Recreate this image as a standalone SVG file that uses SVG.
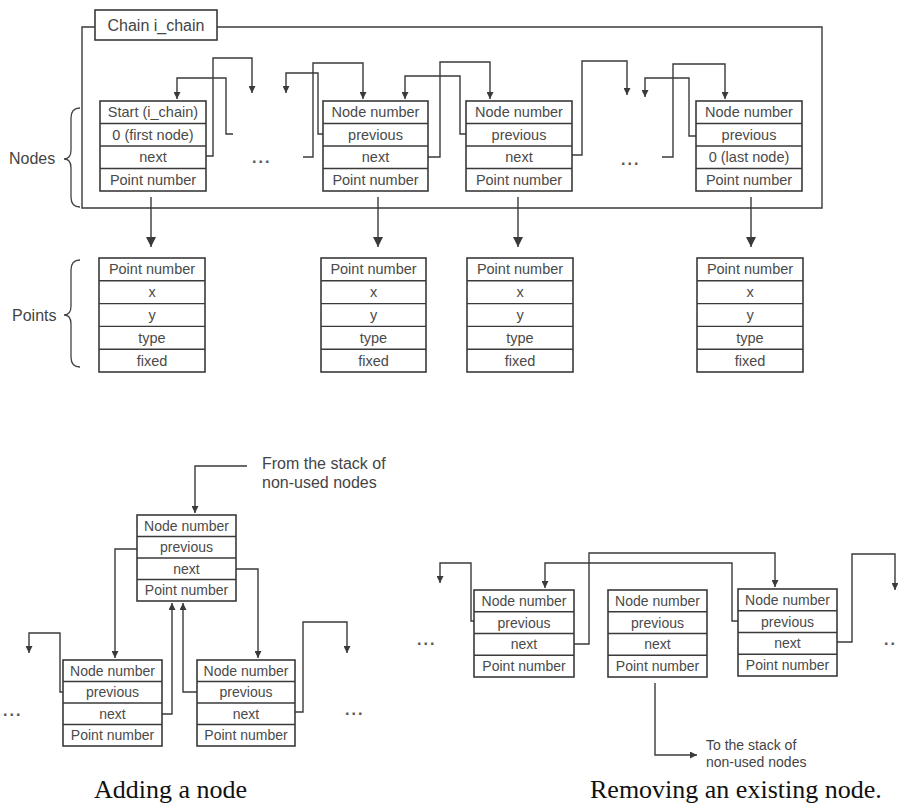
<svg xmlns="http://www.w3.org/2000/svg" width="898" height="807" viewBox="0 0 898 807">
<style>
.bg{fill:#fff}
.box{fill:#fff;stroke:#3a3a3a;stroke-width:1.6}
.sep{stroke:#3a3a3a;stroke-width:1.4}
.t{font-family:"Liberation Sans",Arial,sans-serif;font-size:14.5px;fill:#4a4a4a;text-anchor:middle}
.ts{font-family:"Liberation Sans",Arial,sans-serif;font-size:14px;fill:#4a4a4a;text-anchor:middle}
.lb{font-family:"Liberation Sans",Arial,sans-serif;font-size:16px;fill:#444}
.lbs{font-family:"Liberation Sans",Arial,sans-serif;font-size:14px;fill:#444}
.dots{font-family:"Liberation Sans",Arial,sans-serif;font-size:16px;font-weight:bold;fill:#555;letter-spacing:2px}
.cap{font-family:"Liberation Serif","Times New Roman",serif;font-size:26px;fill:#111}
.c{fill:none;stroke:#3a3a3a;stroke-width:1.4}
.a{marker-end:url(#ah)}
.A{marker-end:url(#ahL)}
.br{fill:none;stroke:#444;stroke-width:1.3}
</style>
<defs>
<marker id="ah" viewBox="0 0 10 10" refX="10" refY="5" markerWidth="9" markerHeight="7" markerUnits="userSpaceOnUse" orient="auto"><path d="M0,0 L10,5 L0,10 z" fill="#3a3a3a"/></marker>
<marker id="ahL" viewBox="0 0 10 10" refX="10" refY="5" markerWidth="12" markerHeight="10" markerUnits="userSpaceOnUse" orient="auto"><path d="M0,0 L10,5 L0,10 z" fill="#3a3a3a"/></marker>
</defs>
<rect class="bg" x="0" y="0" width="898" height="807"/>

<g id="chain-frame">
<path class="c" d="M95,27 L82,27 L82,208 L822,208 L822,27 L217,27"/>
<rect class="box" x="95" y="10" width="122" height="30"/>
<text class="lb" x="156" y="31" text-anchor="middle">Chain i_chain</text>
</g>

<g id="labels">
<text class="lb" x="9" y="164">Nodes</text>
<path class="br" d="M80,108 Q71,108 71,118 L71,150 Q71,159 64,159 Q71,159 71,168 L71,197 Q71,207 80,207"/>
<text class="lb" x="12" y="321">Points</text>
<path class="br" d="M80,260 Q71,260 71,270 L71,306 Q71,315 64,315 Q71,315 71,324 L71,357 Q71,367 80,367"/>
<text class="dots" x="252" y="163">...</text>
<text class="dots" x="621" y="165">...</text>
<text class="dots" x="3" y="716">...</text>
<text class="dots" x="345" y="715">...</text>
<text class="dots" x="417" y="645">...</text>
<text class="dots" x="884" y="645">..</text>
<text class="lb" x="262" y="469">From the stack of</text>
<text class="lb" x="262" y="488">non-used nodes</text>
<text class="lbs" x="706" y="750">To the stack of</text>
<text class="lbs" x="706" y="767">non-used nodes</text>
<text class="cap" x="94" y="798">Adding a node</text>
<text class="cap" x="590" y="798">Removing an existing node.</text>
</g>

<g id="node-start" transform="translate(100,101)">
<rect class="box" width="106" height="90"/>
<line class="sep" x1="0" y1="22.5" x2="106" y2="22.5"/><line class="sep" x1="0" y1="45" x2="106" y2="45"/><line class="sep" x1="0" y1="67.5" x2="106" y2="67.5"/>
<text class="t" x="53" y="16">Start (i_chain)</text><text class="t" x="53" y="38.5">0 (first node)</text><text class="t" x="53" y="61">next</text><text class="t" x="53" y="83.5">Point number</text>
</g>
<g id="node-2" transform="translate(323,101)">
<rect class="box" width="105" height="90"/>
<line class="sep" x1="0" y1="22.5" x2="105" y2="22.5"/><line class="sep" x1="0" y1="45" x2="105" y2="45"/><line class="sep" x1="0" y1="67.5" x2="105" y2="67.5"/>
<text class="t" x="52.5" y="16">Node number</text><text class="t" x="52.5" y="38.5">previous</text><text class="t" x="52.5" y="61">next</text><text class="t" x="52.5" y="83.5">Point number</text>
</g>
<g id="node-3" transform="translate(466,101)">
<rect class="box" width="106" height="90"/>
<line class="sep" x1="0" y1="22.5" x2="106" y2="22.5"/><line class="sep" x1="0" y1="45" x2="106" y2="45"/><line class="sep" x1="0" y1="67.5" x2="106" y2="67.5"/>
<text class="t" x="53" y="16">Node number</text><text class="t" x="53" y="38.5">previous</text><text class="t" x="53" y="61">next</text><text class="t" x="53" y="83.5">Point number</text>
</g>
<g id="node-last" transform="translate(696,101)">
<rect class="box" width="106" height="90"/>
<line class="sep" x1="0" y1="22.5" x2="106" y2="22.5"/><line class="sep" x1="0" y1="45" x2="106" y2="45"/><line class="sep" x1="0" y1="67.5" x2="106" y2="67.5"/>
<text class="t" x="53" y="16">Node number</text><text class="t" x="53" y="38.5">previous</text><text class="t" x="53" y="61">0 (last node)</text><text class="t" x="53" y="83.5">Point number</text>
</g>

<g id="point-1" transform="translate(99,258)">
<rect class="box" width="106" height="114"/>
<line class="sep" x1="0" y1="22.8" x2="106" y2="22.8"/><line class="sep" x1="0" y1="45.6" x2="106" y2="45.6"/><line class="sep" x1="0" y1="68.4" x2="106" y2="68.4"/><line class="sep" x1="0" y1="91.2" x2="106" y2="91.2"/>
<text class="t" x="53" y="16.4">Point number</text><text class="t" x="53" y="39.2">x</text><text class="t" x="53" y="62">y</text><text class="t" x="53" y="84.8">type</text><text class="t" x="53" y="107.6">fixed</text>
</g>
<g id="point-2" transform="translate(321,258)">
<rect class="box" width="105" height="114"/>
<line class="sep" x1="0" y1="22.8" x2="105" y2="22.8"/><line class="sep" x1="0" y1="45.6" x2="105" y2="45.6"/><line class="sep" x1="0" y1="68.4" x2="105" y2="68.4"/><line class="sep" x1="0" y1="91.2" x2="105" y2="91.2"/>
<text class="t" x="52.5" y="16.4">Point number</text><text class="t" x="52.5" y="39.2">x</text><text class="t" x="52.5" y="62">y</text><text class="t" x="52.5" y="84.8">type</text><text class="t" x="52.5" y="107.6">fixed</text>
</g>
<g id="point-3" transform="translate(467,258)">
<rect class="box" width="106" height="114"/>
<line class="sep" x1="0" y1="22.8" x2="106" y2="22.8"/><line class="sep" x1="0" y1="45.6" x2="106" y2="45.6"/><line class="sep" x1="0" y1="68.4" x2="106" y2="68.4"/><line class="sep" x1="0" y1="91.2" x2="106" y2="91.2"/>
<text class="t" x="53" y="16.4">Point number</text><text class="t" x="53" y="39.2">x</text><text class="t" x="53" y="62">y</text><text class="t" x="53" y="84.8">type</text><text class="t" x="53" y="107.6">fixed</text>
</g>
<g id="point-4" transform="translate(697,258)">
<rect class="box" width="106" height="114"/>
<line class="sep" x1="0" y1="22.8" x2="106" y2="22.8"/><line class="sep" x1="0" y1="45.6" x2="106" y2="45.6"/><line class="sep" x1="0" y1="68.4" x2="106" y2="68.4"/><line class="sep" x1="0" y1="91.2" x2="106" y2="91.2"/>
<text class="t" x="53" y="16.4">Point number</text><text class="t" x="53" y="39.2">x</text><text class="t" x="53" y="62">y</text><text class="t" x="53" y="84.8">type</text><text class="t" x="53" y="107.6">fixed</text>
</g>

<g id="add-new" transform="translate(137,515)">
<rect class="box" width="99" height="86"/>
<line class="sep" x1="0" y1="21.5" x2="99" y2="21.5"/><line class="sep" x1="0" y1="43" x2="99" y2="43"/><line class="sep" x1="0" y1="64.5" x2="99" y2="64.5"/>
<text class="ts" x="49.5" y="15.8">Node number</text><text class="ts" x="49.5" y="37.3">previous</text><text class="ts" x="49.5" y="58.8">next</text><text class="ts" x="49.5" y="80.3">Point number</text>
</g>
<g id="add-left" transform="translate(63,660)">
<rect class="box" width="99" height="86"/>
<line class="sep" x1="0" y1="21.5" x2="99" y2="21.5"/><line class="sep" x1="0" y1="43" x2="99" y2="43"/><line class="sep" x1="0" y1="64.5" x2="99" y2="64.5"/>
<text class="ts" x="49.5" y="15.8">Node number</text><text class="ts" x="49.5" y="37.3">previous</text><text class="ts" x="49.5" y="58.8">next</text><text class="ts" x="49.5" y="80.3">Point number</text>
</g>
<g id="add-right" transform="translate(197,660)">
<rect class="box" width="98" height="86"/>
<line class="sep" x1="0" y1="21.5" x2="98" y2="21.5"/><line class="sep" x1="0" y1="43" x2="98" y2="43"/><line class="sep" x1="0" y1="64.5" x2="98" y2="64.5"/>
<text class="ts" x="49" y="15.8">Node number</text><text class="ts" x="49" y="37.3">previous</text><text class="ts" x="49" y="58.8">next</text><text class="ts" x="49" y="80.3">Point number</text>
</g>

<g id="rem-left" transform="translate(474,590)">
<rect class="box" width="100" height="87"/>
<line class="sep" x1="0" y1="21.75" x2="100" y2="21.75"/><line class="sep" x1="0" y1="43.5" x2="100" y2="43.5"/><line class="sep" x1="0" y1="65.25" x2="100" y2="65.25"/>
<text class="ts" x="50" y="15.9">Node number</text><text class="ts" x="50" y="37.6">previous</text><text class="ts" x="50" y="59.4">next</text><text class="ts" x="50" y="81.1">Point number</text>
</g>
<g id="rem-removed" transform="translate(608,590)">
<rect class="box" width="99" height="87"/>
<line class="sep" x1="0" y1="21.75" x2="99" y2="21.75"/><line class="sep" x1="0" y1="43.5" x2="99" y2="43.5"/><line class="sep" x1="0" y1="65.25" x2="99" y2="65.25"/>
<text class="ts" x="49.5" y="15.9">Node number</text><text class="ts" x="49.5" y="37.6">previous</text><text class="ts" x="49.5" y="59.4">next</text><text class="ts" x="49.5" y="81.1">Point number</text>
</g>
<g id="rem-right" transform="translate(738,589)">
<rect class="box" width="99" height="87"/>
<line class="sep" x1="0" y1="21.75" x2="99" y2="21.75"/><line class="sep" x1="0" y1="43.5" x2="99" y2="43.5"/><line class="sep" x1="0" y1="65.25" x2="99" y2="65.25"/>
<text class="ts" x="49.5" y="15.9">Node number</text><text class="ts" x="49.5" y="37.6">previous</text><text class="ts" x="49.5" y="59.4">next</text><text class="ts" x="49.5" y="81.1">Point number</text>
</g>

<g id="connectors">
<path class="c a" d="M206,156 L213,156 L213,58 L252,58 L252,93"/>
<path class="c a" d="M233,134 L226,134 L226,78 L177,78 L177,99"/>
<path class="c a" d="M323,134 L318,134 L318,73 L286,73 L286,93"/>
<path class="c a" d="M303,157 L313,157 L313,63 L363,63 L363,99"/>
<path class="c a" d="M428,157 L440,157 L440,62 L490,62 L490,99"/>
<path class="c a" d="M466,134 L460,134 L460,76 L405,76 L405,99"/>
<path class="c a" d="M572,155 L582,155 L582,61 L627,61 L627,95"/>
<path class="c a" d="M696,136 L689,136 L689,78 L645,78 L645,97"/>
<path class="c a" d="M662,157 L673,157 L673,64 L725,64 L725,99"/>
<path class="c A" d="M151,197 L151,247"/>
<path class="c A" d="M378,197 L378,247"/>
<path class="c A" d="M518,197 L518,247"/>
<path class="c A" d="M751,197 L751,247"/>
<path class="c a" d="M247,466 L195,466 L195,513"/>
<path class="c a" d="M137,549 L115,549 L115,658"/>
<path class="c a" d="M236,569 L258,569 L258,658"/>
<path class="c a" d="M63,692 L60,692 L60,633 L29,633 L29,653"/>
<path class="c a" d="M162,714 L172,714 L172,603"/>
<path class="c a" d="M197,692 L183,692 L183,603"/>
<path class="c a" d="M295,712 L303,712 L303,622 L347,622 L347,653"/>
<path class="c a" d="M474,621 L471,621 L471,563 L440,563 L440,583"/>
<path class="c a" d="M574,644 L589,644 L589,553 L775,553 L775,587"/>
<path class="c a" d="M738,621 L732,621 L732,563 L545,563 L545,588"/>
<path class="c a" d="M837,642 L852,642 L852,554 L895,554 L895,590"/>
<path class="c a" d="M655,683 L655,755 L697,755"/>
</g>
</svg>
